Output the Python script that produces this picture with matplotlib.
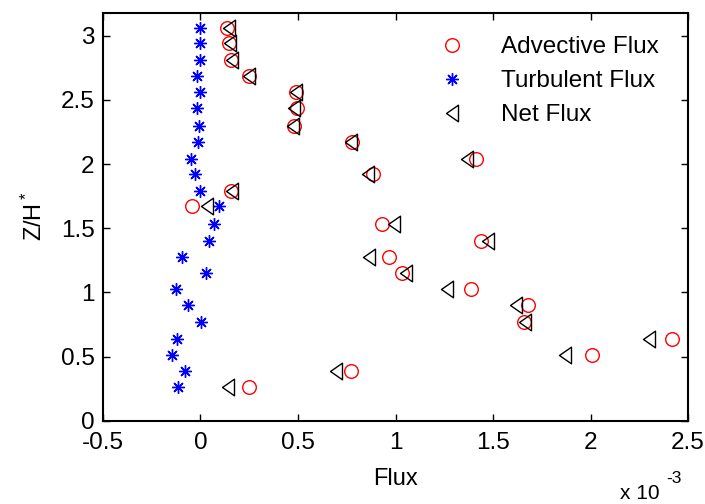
import matplotlib
matplotlib.use("Agg")
import matplotlib.pyplot as plt
from matplotlib.path import Path

plt.rcParams["font.family"] = ["Liberation Sans", "DejaVu Sans"]
plt.rcParams["mathtext.fontset"] = "custom"
plt.rcParams["mathtext.rm"] = "Liberation Sans"
plt.rcParams["mathtext.it"] = "Liberation Sans"

# Normalised height z/H*
height = [3.06, 2.94, 2.81, 2.69, 2.56, 2.44, 2.30, 2.17, 2.04, 1.92, 1.79, 1.67,
          1.53, 1.40, 1.28, 1.15, 1.03, 0.90, 0.77, 0.64, 0.51, 0.39, 0.26]

# Fluxes in units of 1e-3
advective = [0.135, 0.147, 0.155, 0.25, 0.49, 0.497, 0.48, 0.779, 1.413, 0.886, 0.155, -0.043,
             0.93, 1.437, 0.965, 1.033, 1.388, 1.679, 1.657, 2.42, 2.005, 0.773, 0.248]
turbulent = [0.0, 0.0, 0.0, -0.017, 0.0, -0.02, -0.01, -0.013, -0.048, -0.026, 0.0, 0.095,
             0.069, 0.043, -0.093, 0.03, -0.127, -0.064, 0.005, -0.122, -0.146, -0.079, -0.117]
net = [0.145, 0.15, 0.16, 0.25, 0.49, 0.478, 0.475, 0.772, 1.369, 0.86, 0.16, 0.033,
       0.991, 1.474, 0.866, 1.056, 1.265, 1.62, 1.662, 2.30, 1.867, 0.693, 0.142]

xtick_vals = [-0.5, 0, 0.5, 1, 1.5, 2, 2.5]
xtick_text = ["-0.5", "0", "0.5", "1", "1.5", "2", "2.5"]
ytick_vals = [0, 0.5, 1, 1.5, 2, 2.5, 3]
ytick_text = ["0", "0.5", "1", "1.5", "2", "2.5", "3"]

# Slim left-pointing triangle
tri_left = Path([(-0.72, 0.0), (0.72, 1.0), (0.72, -1.0), (-0.72, 0.0)],
                [Path.MOVETO, Path.LINETO, Path.LINETO, Path.CLOSEPOLY])

fig = plt.figure(figsize=(7.05, 5.04), dpi=100)
ax = fig.add_axes([0.146, 0.165, 0.830, 0.810])

ax.plot(advective, height, linestyle="none", marker="o", markersize=9.8,
        markerfacecolor="none", markeredgecolor="#ff0000", markeredgewidth=1.0,
        label="Advective Flux")
ax.plot(turbulent, height, linestyle="none", marker=(8, 2, 0), markersize=9,
        color="#0000ff", markeredgewidth=1.0, label="Turbulent Flux")
ax.plot(net, height, linestyle="none", marker=tri_left, markersize=12,
        markerfacecolor="none", markeredgecolor="black", markeredgewidth=1.0,
        label="Net Flux")

ax.set_xlim(-0.5, 2.5)
ax.set_ylim(0, 3.18)
ax.set_xticks(xtick_vals)
ax.set_xticklabels(xtick_text)
ax.set_yticks(ytick_vals)
ax.set_yticklabels(ytick_text)
ax.tick_params(direction="in", top=True, right=True, length=5, width=1.0,
               labelsize=17.5)
ax.tick_params(axis="x", pad=8)
ax.tick_params(axis="y", pad=6)
for s in ax.spines.values():
    s.set_linewidth(1.5)

ax.set_xlabel("Flux", fontsize=17, labelpad=10)
ax.set_ylabel("Z/H$^*$", fontsize=17, labelpad=10)

fig.text(620 / 705, 1 - 499 / 504, "x 10", fontsize=15, ha="left", va="baseline")
fig.text(666 / 705, 1 - 483 / 504, "-3", fontsize=12.5, ha="left", va="baseline")

ax.legend(loc="upper left", frameon=False, fontsize=17.5, handlelength=1.0,
          handletextpad=1.5, borderpad=0.0, borderaxespad=0.0, labelspacing=0.5,
          bbox_to_anchor=(440 / 705, 1 - 36 / 504), bbox_transform=fig.transFigure)

fig.savefig("out.png", dpi=100)
